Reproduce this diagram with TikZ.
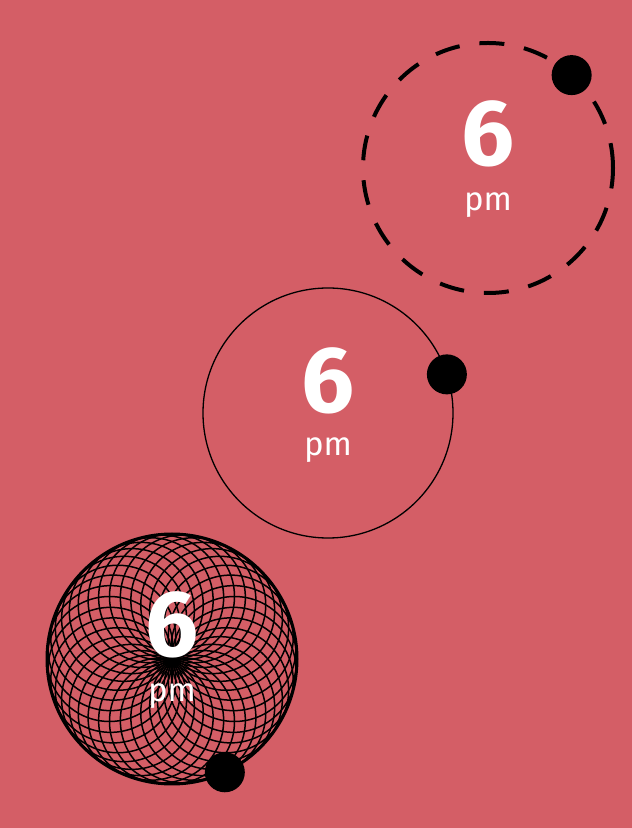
\documentclass[tikz,border=0pt]{standalone}
\usepackage{fontspec}
\setmainfont{Fira Sans}
\usetikzlibrary{positioning}

\definecolor{bgred}{RGB}{212,94,102}

\begin{document}
\begin{tikzpicture}[
    x=1pt, y=1pt,
    ring/.style={circle, draw=black, minimum size=250pt, inner sep=0pt, outer sep=0pt},
    hour/.style={text=white, font=\fontsize{94}{94}\selectfont\bfseries, anchor=base, inner sep=0pt},
    ampm/.style={text=white, font=\fontsize{33}{33}\selectfont, anchor=base, inner sep=0pt},
    knob/.style={circle, fill=black, minimum size=40pt, inner sep=0pt}
]

% BACKGROUND
\fill[bgred, use as bounding box] (0,0) rectangle (632,828);

% RINGS
\node[ring, line width=4pt, dash pattern=on 25pt off 20pt] (ringA) at (488,660) {};
\node[ring, line width=1.3pt] (ringB) at (328,415) {};
\node[ring, line width=3pt] (ringC) at (172,169) {};
\foreach \a in {0,10,...,350}
  \draw[line width=1.5pt] ([shift={(\a:62.5)}]ringC.center) circle[radius=62.5pt];

% LABELS
\node[hour] (hourA) at ([yshift=2pt]ringA.center) {6};
\node[ampm] (ampmA) at ([yshift=-43pt]ringA.center) {pm};
\node[hour] (hourB) at ([yshift=0pt]ringB.center) {6};
\node[ampm] (ampmB) at ([yshift=-43pt]ringB.center) {pm};
\node[hour] (hourC) at ([yshift=2pt]ringC.center) {6};
\node[ampm] (ampmC) at ([yshift=-43pt]ringC.center) {pm};

% KNOBS
\node[knob] (knobA) at (ringA.48.6) {};
\node[knob] (knobB) at (ringB.18.4) {};
\node[knob] (knobC) at (ringC.-65.7) {};

\end{tikzpicture}
\end{document}
